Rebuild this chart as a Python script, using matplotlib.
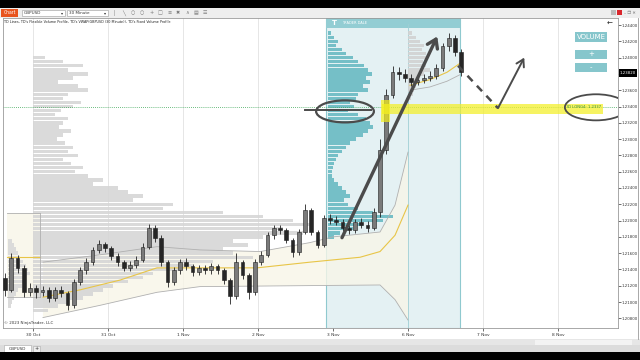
import numpy as np
import matplotlib
matplotlib.use("Agg")
import matplotlib.pyplot as plt
from matplotlib.patches import Rectangle, Ellipse

# ---------------- data ----------------
day_labels = ["30 Oct", "31 Oct", "1 Nov", "2 Nov", "3 Nov", "6 Nov", "7 Nov", "8 Nov"]
price_ticks = [1.244, 1.242, 1.240, 1.238, 1.236, 1.234, 1.232, 1.230, 1.228, 1.226,
               1.224, 1.222, 1.220, 1.218, 1.216, 1.214, 1.212, 1.210, 1.208]

first_open = 1.2130
closes = [1.2115, 1.2154, 1.2142, 1.2112, 1.2117, 1.2112, 1.2115, 1.2105, 1.2115, 1.2111,
          1.2096, 1.2125, 1.2139, 1.2149, 1.2164, 1.2171, 1.2166, 1.2157, 1.2149, 1.2142,
          1.2146, 1.2152, 1.2168, 1.2191, 1.2179, 1.2149, 1.2125, 1.2139, 1.2149, 1.2144,
          1.2137, 1.2142, 1.2139, 1.2144, 1.2139, 1.2127, 1.2107, 1.2149, 1.2133, 1.2112,
          1.2149, 1.2158, 1.2182, 1.2191, 1.2188, 1.2176, 1.2161, 1.2186, 1.2213, 1.2186,
          1.2170, 1.2203, 1.2201, 1.2198, 1.2191, 1.2188, 1.2198, 1.2195, 1.2191, 1.2211,
          1.2287, 1.2354, 1.2382, 1.2380, 1.2375, 1.2370, 1.2373, 1.2375, 1.2377, 1.2387,
          1.2414, 1.2424, 1.2407, 1.2382]
highs = [1.2136, 1.2160, 1.2158, 1.2145, 1.2124, 1.2121, 1.2120, 1.2118, 1.2119, 1.2120,
         1.2114, 1.2128, 1.2143, 1.2154, 1.2168, 1.2176, 1.2174, 1.2169, 1.2160, 1.2152,
         1.2150, 1.2156, 1.2172, 1.2196, 1.2194, 1.2182, 1.2152, 1.2143, 1.2153, 1.2154,
         1.2147, 1.2146, 1.2146, 1.2148, 1.2147, 1.2142, 1.2130, 1.2160, 1.2152, 1.2136,
         1.2153, 1.2163, 1.2186, 1.2195, 1.2194, 1.2191, 1.2179, 1.2190, 1.2220, 1.2216,
         1.2189, 1.2207, 1.2208, 1.2206, 1.2202, 1.2195, 1.2202, 1.2203, 1.2199, 1.2216,
         1.2300, 1.2362, 1.2390, 1.2388, 1.2386, 1.2380, 1.2378, 1.2380, 1.2383, 1.2392,
         1.2418, 1.2430, 1.2428, 1.2410]
lows = [1.2108, 1.2112, 1.2136, 1.2106, 1.2108, 1.2105, 1.2107, 1.2100, 1.2101, 1.2106,
        1.2090, 1.2093, 1.2121, 1.2135, 1.2145, 1.2160, 1.2161, 1.2152, 1.2144, 1.2138,
        1.2138, 1.2142, 1.2149, 1.2165, 1.2174, 1.2144, 1.2118, 1.2121, 1.2135, 1.2139,
        1.2132, 1.2133, 1.2135, 1.2135, 1.2134, 1.2122, 1.2098, 1.2104, 1.2128, 1.2104,
        1.2109, 1.2145, 1.2155, 1.2178, 1.2183, 1.2172, 1.2155, 1.2158, 1.2183, 1.2182,
        1.2166, 1.2167, 1.2196, 1.2194, 1.2187, 1.2183, 1.2185, 1.2191, 1.2186, 1.2188,
        1.2205, 1.2282, 1.2350, 1.2372, 1.2370, 1.2365, 1.2366, 1.2369, 1.2371, 1.2374,
        1.2384, 1.2408, 1.2402, 1.2378]

# VWAP + bands (day units on x)
vwap_pre_x = [-0.34, 0.093]
vwap_pre = [1.2155, 1.2155]
up_pre = [1.2209, 1.2209]
lo_pre = [1.2106, 1.2106]

vwap_wk_x = [0.133, 0.627, 1.16, 1.653, 2.227, 2.987, 3.693, 4.36, 4.627, 4.827, 5.0]
vwap_wk = [1.2106, 1.2115, 1.2127, 1.2142, 1.2142, 1.2142, 1.2149, 1.2155, 1.2162, 1.2182, 1.2219]
up_wk_x = [0.133, 0.893, 1.653, 2.227, 3.027, 3.693, 4.0, 4.627, 4.827, 5.0]
up_wk = [1.2149, 1.2158, 1.2168, 1.2164, 1.2162, 1.2173, 1.2180, 1.2186, 1.2219, 1.2284]
lo_wk_x = [0.133, 0.893, 1.653, 2.227, 4.627, 4.827, 5.0]
lo_wk = [1.2081, 1.2096, 1.2112, 1.2119, 1.2121, 1.2103, 1.2078]

vwap_n6_x = [5.027, 5.293, 5.52, 5.693]
vwap_n6 = [1.2366, 1.2373, 1.2382, 1.2393]
lo_n6 = [1.2360, 1.2364, 1.2371, 1.2379]

# volume profiles (volume in arbitrary units, bins of 0.0005)
left_prof_top = 1.2400
left_prof = [12, 30, 50, 35, 55, 40, 25, 45, 55, 35, 30, 48, 40, 28, 22, 35, 30, 26, 38, 30,
             24, 32, 40, 35, 45, 30, 38, 50, 42, 55, 70, 60, 85, 95, 110, 100, 140, 130, 190, 230,
             260, 280, 250, 270, 230, 200, 215, 190, 200, 220, 180, 160, 150, 120, 110, 95, 80, 70,
             60, 50, 35, 25, 15]
pre_prof_top = 1.2175
pre_prof = [4, 6, 8, 10, 12, 15, 18, 20, 22, 18, 16, 14, 10, 8, 6, 4, 3]
teal_prof_top = 1.2430
teal_prof = [3, 6, 10, 8, 14, 18, 25, 30, 36, 40, 44, 38, 42, 35, 40, 30, 28, 22, 26, 20,
             30, 38, 42, 45, 40, 35, 28, 22, 18, 14, 10, 8, 6, 5, 4, 4, 6, 10, 14, 18,
             22, 16, 20, 30, 45, 65, 55, 35, 25, 12, 6]
n6_prof_top = 1.2430
n6_prof = [4, 8, 12, 16, 14, 18, 20, 15, 18, 22, 16, 12, 10, 8, 6, 5, 3]

id_long = 1.2337
last_price = closes[-1]

# ---------------- layout ----------------
W, H = 640, 360
fig = plt.figure(figsize=(6.4, 3.6), dpi=100)
fig.patch.set_facecolor("white")

def fx(x):
    return x / W

def fy(y):
    return 1 - y / H

def frect(x0, y0, x1, y1, **kw):
    fig.patches.append(Rectangle((fx(x0), fy(y1)), fx(x1) - fx(x0), fy(y0) - fy(y1),
                                 transform=fig.transFigure, **kw))

ax = fig.add_axes([fx(3), fy(328), fx(618) - fx(3), fy(18) - fy(328)])
XMIN, XMAX = -0.4, 7.8
YMIN, YMAX = 1.20682, 1.24486
ax.set_xlim(XMIN, XMAX)
ax.set_ylim(YMIN, YMAX)
ax.set_facecolor("white")

PX = 1 / 75.0          # day units per pixel
BIN = 0.0005

# teal box (fixed volume profile area)
box_x0, box_x1 = (326 - 33) * PX, (460 - 33) * PX
ax.add_patch(Rectangle((box_x0, YMIN), box_x1 - box_x0, YMAX - YMIN,
                       facecolor="#e4f1f3", edgecolor="#8fc9cf", lw=0.8, zorder=0.5))
ax.add_patch(Rectangle((box_x0, 1.24363), box_x1 - box_x0, YMAX - 1.24363,
                       facecolor="#93cdd3", edgecolor="none", zorder=0.6))
ax.axvline(5.0, ymax=0.98, color="#9fcfd4", lw=0.6, zorder=0.7)
ax.text(box_x0 + 0.08, 1.24425, "T", fontsize=5, color="white", fontweight="bold",
        va="center", zorder=0.8)
ax.text(box_x0 + 0.22, 1.24425, "TRADER DALE", fontsize=2.6, color="white",
        va="center", zorder=0.8)

# grid
for d in range(8):
    ax.axvline(d, color="#e2e2e2", lw=0.6, zorder=0.4)

# VWAP band fills
ax.fill(list(up_wk_x) + list(lo_wk_x[::-1]), list(up_wk) + list(lo_wk[::-1]),
        color="#f8f6e8", alpha=0.8, zorder=0.9, lw=0)
ax.fill([vwap_pre_x[0], vwap_pre_x[1], vwap_pre_x[1], vwap_pre_x[0]],
        [up_pre[0], up_pre[1], lo_pre[1], lo_pre[0]], color="#f8f6e8", alpha=0.8, zorder=0.9, lw=0)

# volume profiles
def profile(top, vols, left, color, alpha=1.0, z=1.0):
    levels = top - BIN * np.arange(len(vols))
    ax.barh(levels, np.array(vols) * PX, height=BIN * 0.85, left=left,
            color=color, alpha=alpha, edgecolor="none", zorder=z)

profile(left_prof_top, left_prof, 0.0, "#d6d6d6", 0.9, 1.0)
profile(pre_prof_top, pre_prof, (8 - 33) * PX, "#d8d8d8", 0.9, 1.0)
profile(teal_prof_top, teal_prof, (328 - 33) * PX, "#6fbdc5", 0.95, 1.1)
profile(n6_prof_top, n6_prof, 5.0, "#d2d2d2", 0.9, 1.1)

# VWAP lines
ax.plot(vwap_pre_x, vwap_pre, color="#e8c547", lw=0.8, zorder=2)
ax.plot(vwap_pre_x, up_pre, color="#b0b0b0", lw=0.6, zorder=2)
ax.plot(vwap_pre_x, lo_pre, color="#b0b0b0", lw=0.6, zorder=2)
ax.plot([vwap_pre_x[1]] * 2, [lo_pre[1], up_pre[1]], color="#b0b0b0", lw=0.6, zorder=2)
ax.plot(vwap_wk_x, vwap_wk, color="#e8c547", lw=0.8, zorder=2)
ax.plot(up_wk_x, up_wk, color="#b0b0b0", lw=0.6, zorder=2)
ax.plot(lo_wk_x, lo_wk, color="#b0b0b0", lw=0.6, zorder=2)
ax.plot(vwap_n6_x, vwap_n6, color="#e8c547", lw=0.8, zorder=2)
ax.plot(vwap_n6_x, lo_n6, color="#b0b0b0", lw=0.6, zorder=2)

# green dotted level line
ax.axhline(1.2339, color="#3aa655", ls=(0, (1, 1.5)), lw=0.6, zorder=2)

# candles (2-hour bars)
bar_start, bar_step = -0.373, 1 / 12
opens = [first_open] + closes[:-1]
t = bar_start + bar_step * np.arange(len(closes))
bw = 0.05
for ti, o, c, h, l in zip(t, opens, closes, highs, lows):
    ax.vlines(ti, l, h, color="#222222", lw=0.6, zorder=3)
    up = c >= o
    ax.add_patch(Rectangle((ti - bw / 2, min(o, c)), bw, max(abs(c - o), 0.00005),
                           facecolor="#7a7a7a" if up else "#262626",
                           edgecolor="#1e1e1e", lw=0.4, zorder=3.1))

# yellow highlight
ax.add_patch(Rectangle(((382 - 33) * PX, id_long - 0.0006), (603 - 382) * PX, 0.0012,
                       facecolor="#f3ef2e", alpha=0.75, edgecolor="none", zorder=3.5))
ax.add_patch(Rectangle(((381 - 33) * PX, 1.2321), 9 * PX, 0.0027,
                       facecolor="#f5ef1a", alpha=0.7, edgecolor="none", zorder=3.5))
ax.text(7.35, 1.2339, "ID LONG4: 1.2337", fontsize=2.7, color="#2b8a3e",
        ha="center", va="center", zorder=4)

# hand-drawn annotations
ink = "#4b4b4b"
ax.add_patch(Ellipse((4.16, 1.2334), 0.77, 0.0027, fill=False, edgecolor=ink, lw=1.6, zorder=5))
ax.plot([3.63, 4.5], [1.2336, 1.2336], color=ink, lw=1.4, zorder=5)
ax.annotate("", xy=(5.39, 1.2426), xytext=(4.12, 1.2179),
            arrowprops=dict(arrowstyle="->,head_length=0.6,head_width=0.4", color=ink,
                            lw=2.4, shrinkA=0, shrinkB=0), zorder=5)
ax.plot([5.667, 6.2], [1.2390, 1.2338], color=ink, lw=1.8, ls=(0, (3, 2.5)), zorder=5)
ax.annotate("", xy=(6.55, 1.2400), xytext=(6.2, 1.2338),
            arrowprops=dict(arrowstyle="->,head_length=0.5,head_width=0.3", color=ink,
                            lw=1.4, shrinkA=0, shrinkB=0), zorder=5)
ax.add_patch(Ellipse((7.507, 1.2339), 0.83, 0.0032, fill=False, edgecolor=ink, lw=1.3, zorder=5))

# axes styling (the 1.23800 label is hidden by the current price marker)
ax.yaxis.tick_right()
ax.set_yticks(price_ticks)
ax.set_yticklabels(["" if abs(v - 1.238) < 1e-9 else f"{v:.5f}" for v in price_ticks])
ax.set_xticks(range(len(day_labels)))
ax.set_xticklabels(day_labels)
ax.tick_params(axis="y", labelsize=2.8, length=2, width=0.5, pad=0.8, colors="#333333")
ax.tick_params(axis="x", labelsize=3.2, length=2, width=0.5, pad=1.5, colors="#333333")
for s in ax.spines.values():
    s.set_color("#9a9a9a")
    s.set_linewidth(0.6)

# current price box on axis
frect(619, 69.5, 637, 77, facecolor="black", edgecolor="none")
fig.text(fx(628), fy(73.2), f"{last_price:.5f}", fontsize=2.8, color="white",
         ha="center", va="center")

# ---------------- window chrome ----------------
frect(0, 0, 640, 8, facecolor="black", edgecolor="none")
frect(0, 8, 640, 17.5, facecolor="#eeeeee", edgecolor="none")
frect(1, 9, 18, 16.5, facecolor="#e8541e", edgecolor="none")
fig.text(fx(9.5), fy(12.8), "Chart", fontsize=3.3, color="white", ha="center", va="center")
frect(22, 9.5, 65, 16, facecolor="white", edgecolor="#9a9a9a", lw=0.4)
fig.text(fx(24), fy(12.8), "GBPUSD", fontsize=3.0, color="#333", va="center")
fig.text(fx(61), fy(12.8), "\u25be", fontsize=3.0, color="#333", va="center")
frect(67, 9.5, 108, 16, facecolor="white", edgecolor="#9a9a9a", lw=0.4)
fig.text(fx(69), fy(12.8), "30 Minute", fontsize=3.0, color="#333", va="center")
fig.text(fx(104), fy(12.8), "\u25be", fontsize=3.0, color="#333", va="center")
for k, sym in enumerate(["\u2502", "\u2572", "\u25cb", "\u25cb", "+", "\u25a1", "\u2261",
                         "\u2716", "\u2227", "\u25a4", "\u2630"]):
    fig.text(fx(113 + k * 9), fy(12.8), sym, fontsize=3.6, color="#777", va="center")
frect(611, 9.5, 616, 15, facecolor="#bbbbbb", edgecolor="none")
frect(617, 9.5, 622, 15, facecolor="#d9262c", edgecolor="none")
fig.text(fx(624), fy(12.5), "\u2013 \u2750 \u2715", fontsize=3, color="#666", va="center")

fig.text(fx(4), fy(22), "TD Lines, TD's Flexible Volume Profile, TD's VWAP(GBPUSD (30 Minute)), "
         "TD's Fixed Volume Profile", fontsize=2.4, color="#222", va="center")
fig.text(fx(4), fy(323), "\u00a9 2023 NinjaTrader, LLC", fontsize=2.9, color="#333", va="center")
fig.text(fx(610), fy(24), "\u2190", fontsize=5, color="#222", ha="center", va="center")

# VOLUME / + / - buttons
frect(575, 32, 607, 42, facecolor="#86c6cc", edgecolor="none")
fig.text(fx(591), fy(37), "VOLUME", fontsize=5, color="white", ha="center", va="center")
frect(575, 50, 607, 58.5, facecolor="#86c6cc", edgecolor="none")
fig.text(fx(591), fy(54.2), "+", fontsize=5, color="white", ha="center", va="center")
frect(575, 63, 607, 71.5, facecolor="#86c6cc", edgecolor="none")
fig.text(fx(591), fy(67.2), "-", fontsize=5, color="white", ha="center", va="center")

# bottom chrome
frect(0, 339, 640, 345, facecolor="#e6e6e6", edgecolor="none")
frect(535, 339.5, 632, 344.5, facecolor="#f3f3f3", edgecolor="none")
frect(0, 345, 640, 352, facecolor="#dcdcdc", edgecolor="none")
frect(4, 345, 31, 352, facecolor="white", edgecolor="#aaaaaa", lw=0.4)
fig.text(fx(17.5), fy(348.5), "GBPUSD", fontsize=3.0, color="#333", ha="center", va="center")
frect(33, 345.5, 40, 351.5, facecolor="#eeeeee", edgecolor="#aaaaaa", lw=0.4)
fig.text(fx(36.5), fy(348.5), "+", fontsize=3.5, color="#333", ha="center", va="center")
frect(0, 352, 640, 360, facecolor="black", edgecolor="none")
fig.lines.append(plt.Line2D([fx(638), fx(638)], [fy(18), fy(339)], transform=fig.transFigure,
                            color="#9a9a9a", lw=0.6))

fig.savefig("out.png", dpi=100, facecolor=fig.get_facecolor())
